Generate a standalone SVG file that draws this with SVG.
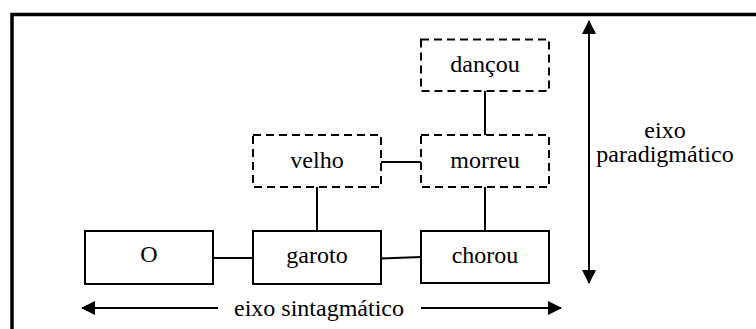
<svg xmlns="http://www.w3.org/2000/svg" width="756" height="329" viewBox="0 0 756 329">
  <style>
    .frame { fill: none; stroke: #000; stroke-width: 3.5; }
    .box { fill: #fff; stroke: #000; stroke-width: 2; }
    .alt { fill: #fff; stroke: #000; stroke-width: 2; stroke-dasharray: 8 5; }
    .link { fill: none; stroke: #000; stroke-width: 2; }
    .axis { fill: none; stroke: #000; stroke-width: 2; }
    .label { font-family: "Liberation Serif", "Times New Roman", serif; font-size: 24px; fill: #000; text-anchor: middle; }
  </style>
  <defs>
    <marker id="head" viewBox="0 0 14 14" refX="13" refY="7" markerWidth="14" markerHeight="14" markerUnits="userSpaceOnUse" orient="auto-start-reverse">
      <path d="M0,0 L14,7 L0,14 Z" fill="#000"/>
    </marker>
  </defs>

  <rect width="756" height="329" fill="#fff"/>
  <!-- outer frame, running off the right and bottom edges -->
  <rect class="frame" x="12" y="14.5" width="800" height="400"/>

  <!-- connectors -->
  <g id="connectors">
    <line class="link" x1="213" y1="258" x2="253" y2="258"/>
    <line class="link" x1="381" y1="258.5" x2="421" y2="257"/>
    <line class="link" x1="381" y1="162" x2="421" y2="162"/>
    <line class="link" x1="317" y1="187" x2="317" y2="231"/>
    <line class="link" x1="485" y1="187" x2="485" y2="231"/>
    <line class="link" x1="485" y1="91" x2="485" y2="135"/>
  </g>

  <!-- syntagmatic row -->
  <g id="node-o">
    <rect class="box" x="85" y="231" width="128" height="53"/>
    <text class="label" x="149" y="262">O</text>
  </g>
  <g id="node-garoto">
    <rect class="box" x="253" y="231" width="128" height="53"/>
    <text class="label" x="317" y="263">garoto</text>
  </g>
  <g id="node-chorou">
    <rect class="box" x="421" y="231" width="128" height="52"/>
    <text class="label" x="485" y="263">chorou</text>
  </g>

  <!-- paradigmatic alternatives -->
  <g id="node-velho">
    <rect class="alt" x="253" y="135" width="128" height="52"/>
    <text class="label" x="317" y="168">velho</text>
  </g>
  <g id="node-morreu">
    <rect class="alt" x="421" y="135" width="128" height="52"/>
    <text class="label" x="485" y="168">morreu</text>
  </g>
  <g id="node-dancou">
    <rect class="alt" x="421" y="39.5" width="128" height="51.5"/>
    <text class="label" x="485" y="72">dançou</text>
  </g>

  <!-- axes -->
  <g id="axis-paradigmatic">
    <line class="axis" x1="589" y1="21" x2="589" y2="283" marker-start="url(#head)" marker-end="url(#head)"/>
    <text class="label" x="665" y="138">eixo</text>
    <text class="label" x="665" y="162">paradigmático</text>
  </g>
  <g id="axis-syntagmatic">
    <line class="axis" x1="82" y1="308" x2="218" y2="308" marker-start="url(#head)"/>
    <line class="axis" x1="421" y1="308" x2="561" y2="308" marker-end="url(#head)"/>
    <text class="label" x="319" y="316">eixo sintagmático</text>
  </g>
</svg>
